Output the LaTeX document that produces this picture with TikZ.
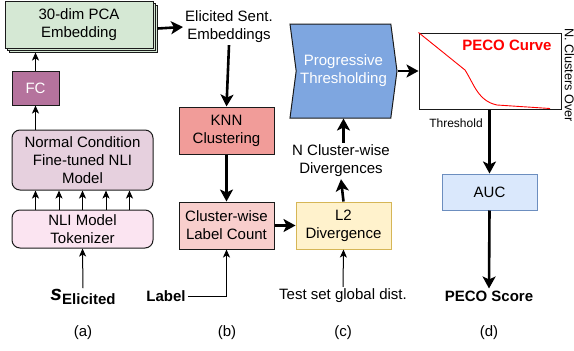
\documentclass[tikz,border=0pt]{standalone}
\usepackage{fontspec}
\setmainfont{Liberation Sans}
\usetikzlibrary{arrows.meta,shapes.symbols}

\definecolor{edge}{HTML}{1A1A1A}
\definecolor{pcagreen}{HTML}{D5E8D4}
\definecolor{fcpurple}{HTML}{B5739D}
\definecolor{nlipurple}{HTML}{E6D0DE}
\definecolor{tokpink}{HTML}{FBE4F1}
\definecolor{knnred}{HTML}{F19C99}
\definecolor{cntred}{HTML}{F8CECC}
\definecolor{ltyellow}{HTML}{FFF2CC}
\definecolor{ltyellowedge}{HTML}{D6B656}
\definecolor{progblue}{HTML}{7EA6E0}
\definecolor{aucblue}{HTML}{DAE8FC}
\definecolor{aucedge}{HTML}{6C8EBF}
\definecolor{curvered}{HTML}{FF0000}

\tikzset{
  txt/.style={font=\fontsize{15}{18}\selectfont, align=center, inner sep=2pt},
  small/.style={font=\fontsize{12}{14}\selectfont, inner sep=0pt},
  box/.style={txt, draw=edge, line width=1pt, inner sep=0pt},
  pcabox/.style={box, fill=pcagreen, minimum width=148, minimum height=47},
  arr/.style={-{Stealth[length=8pt,width=7pt,inset=2pt]}, line width=1pt},
  bigarr/.style={-{Stealth[length=12pt,width=13pt,inset=3pt]}, line width=2.6pt},
}

\begin{document}
\begin{tikzpicture}[x=1pt, y=-1pt]
  \useasboundingbox (0,0) rectangle (574,351);

  % (a) embedding model
  \node[pcabox, xshift=4pt, yshift=-4pt] (pcaback2) at (79,24.5) {};
  \node[pcabox, xshift=2pt, yshift=-2pt] (pcaback1) at (79,24.5) {};
  \node[pcabox] (pca) at (79,24.5) {30-dim PCA\\Embedding};
  \node[box, fill=fcpurple, text=white, minimum width=47, minimum height=34] (fc) at (35.5,88) {FC};
  \node[box, fill=nlipurple, rounded corners=8pt, minimum width=141, minimum height=60] (nli) at (82.5,160) {Normal Condition\\Fine-tuned NLI\\Model};
  \node[box, fill=tokpink, rounded corners=8pt, minimum width=141, minimum height=38] (tok) at (82.5,229) {NLI Model\\Tokenizer};
  \node[txt] (selic) at (83,297) {{\fontsize{21}{21}\selectfont\bfseries\itshape s}\raisebox{-4pt}{\bfseries Elicited}};

  \foreach \dx in {-47,-23.5,0,23.5,47}
    \draw[arr] ([xshift=\dx pt]tok.north) -- ([xshift=\dx pt]nli.south);
  \draw[arr] (nli.north -| fc) -- (fc.south);
  \draw[arr] (fc.north) -- (fc.north |- pcaback2.south);
  \draw[arr] ([yshift=-1pt]selic.north) -- (tok.south);

  % (b) clustering
  \node[txt] (elic) at (229,27) {Elicited Sent.\\Embeddings};
  \node[box, fill=knnred, minimum width=95, minimum height=47] (knn) at (226.5,130.5) {KNN\\Clustering};
  \node[box, fill=cntred, minimum width=95, minimum height=47] (clw) at (226.5,225.5) {Cluster-wise\\Label Count};
  \node[txt, font=\fontsize{15}{18}\selectfont\bfseries] (lab) at (166,296) {Label};

  \draw[bigarr] (pcaback2.east) -- (elic.west);
  \draw[bigarr] (elic.south) -- (knn.north);
  \draw[bigarr] (knn.south) -- (clw.north);
  \draw[arr] (lab.east) -| (clw.south);

  % (c) divergence and thresholding
  \node[box, fill=ltyellow, draw=ltyellowedge, minimum width=95, minimum height=47] (l2) at (343.5,225.5) {L2\\Divergence};
  \node[txt] (test) at (343,296) {Test set global dist.};
  \node[txt] (ncw) at (341,161) {N Cluster-wise\\Divergences};
  \node[box, fill=progblue, text=white, signal, signal to=east, signal from=west,
        signal pointer angle=165, minimum width=107, minimum height=94] (prog) at (343.5,71) {Progressive\\Thresholding};

  \draw[bigarr] (clw.east) -- (l2.west);
  \draw[arr] (test.north) -- (l2.south);
  \draw[bigarr] (l2.north) -- (ncw.south);
  \draw[bigarr] (ncw.north -| prog.south) -- (prog.south);

  % (d) curve and score
  \node[box, fill=white, minimum width=142, minimum height=76] (peco) at (490,71) {};
  \draw[curvered, line width=0.9pt] (peco.north west) -- (465,70)
    .. controls (474,84) and (478,101) .. (497,105) -- (550,108.5);
  \node[txt, text=curvered, font=\fontsize{15}{18}\selectfont\bfseries] (pecot) at (507,45) {PECO Curve};
  \node[small, font=\fontsize{12.7}{14}\selectfont, rotate=-90, anchor=west] (ncl) at (569.5,28) {N. Clusters Over};
  \node[small] (thr) at (456,123) {Threshold};
  \node[box, fill=aucblue, draw=aucedge, minimum width=95, minimum height=36] (auc) at (489.5,192) {AUC};
  \node[txt, font=\fontsize{15}{18}\selectfont\bfseries] (score) at (489,296) {PECO Score};

  \draw[bigarr] (prog.east) -- (peco.west);
  \draw[bigarr] (peco.south -| auc.north) -- (auc.north);
  \draw[bigarr] (auc.south) -- (score.north);

  % panel captions
  \node[txt] (capa) at (83,333) {(a)};
  \node[txt] (capb) at (227,333) {(b)};
  \node[txt] (capc) at (343,333) {(c)};
  \node[txt] (capd) at (489,333) {(d)};
\end{tikzpicture}
\end{document}
